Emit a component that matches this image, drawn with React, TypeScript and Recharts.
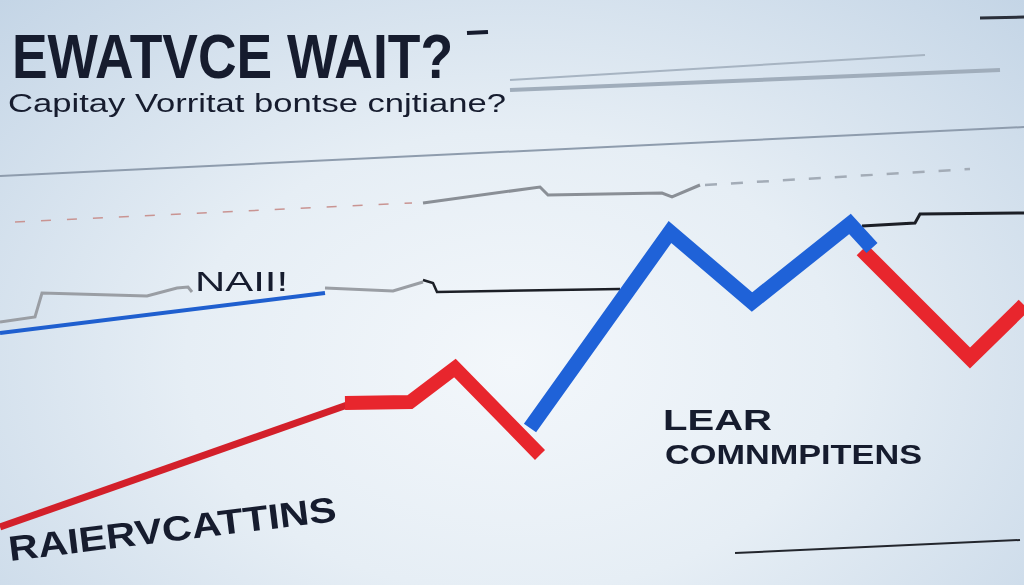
import React from "react";
import { LineChart, Line, XAxis, YAxis } from "recharts";

type Pt = { x: number; y: number };

// values: x across 0..1024, y level 0..585 (bottom = 0)
const redRise: Pt[] = [
  { x: 0, y: 58 },
  { x: 350, y: 181 },
];
const redPeak: Pt[] = [
  { x: 345, y: 182 },
  { x: 410, y: 183 },
  { x: 455, y: 217 },
  { x: 540, y: 130 },
];
const blueSwing: Pt[] = [
  { x: 530, y: 157 },
  { x: 670, y: 353 },
  { x: 752, y: 283 },
  { x: 850, y: 361 },
  { x: 872, y: 337 },
];
const redDrop: Pt[] = [
  { x: 862, y: 335 },
  { x: 970, y: 227 },
  { x: 1024, y: 280 },
];
const blueThin: Pt[] = [
  { x: 0, y: 252 },
  { x: 325, y: 292 },
];
const grayLeft: Pt[] = [
  { x: 0, y: 263 },
  { x: 35, y: 268 },
  { x: 42, y: 292 },
  { x: 147, y: 289 },
  { x: 177, y: 297 },
  { x: 188, y: 298 },
  { x: 192, y: 293 },
];
const grayMid: Pt[] = [
  { x: 325, y: 297 },
  { x: 393, y: 294 },
  { x: 423, y: 303 },
];
const blackMid: Pt[] = [
  { x: 423, y: 305 },
  { x: 433, y: 302 },
  { x: 437, y: 293 },
  { x: 620, y: 296 },
];
const grayUpper: Pt[] = [
  { x: 423, y: 382 },
  { x: 540, y: 398 },
  { x: 548, y: 390 },
  { x: 662, y: 392 },
  { x: 672, y: 388 },
  { x: 700, y: 400 },
];
const grayDashed: Pt[] = [
  { x: 705, y: 400 },
  { x: 970, y: 416 },
];
const dashedRed: Pt[] = [
  { x: 15, y: 363 },
  { x: 412, y: 382 },
];
const blackRight: Pt[] = [
  { x: 862, y: 359 },
  { x: 915, y: 362 },
  { x: 920, y: 371 },
  { x: 1024, y: 372 },
];
const grayTop: Pt[] = [
  { x: 0, y: 409 },
  { x: 1024, y: 458 },
];
const subRuleThin: Pt[] = [
  { x: 510, y: 505 },
  { x: 925, y: 530 },
];
const subRuleThick: Pt[] = [
  { x: 510, y: 495 },
  { x: 1000, y: 515 },
];
const topDash: Pt[] = [
  { x: 980, y: 567 },
  { x: 1024, y: 568 },
];
const titleDash: Pt[] = [
  { x: 467, y: 552 },
  { x: 488, y: 553 },
];
const bottomArrow: Pt[] = [
  { x: 735, y: 32 },
  { x: 1020, y: 45 },
];

const W = 1024;
const H = 585;
const ink = "#161c2e";

const series: { data: Pt[]; stroke: string; width: number; dash?: string }[] = [
  { data: grayTop, stroke: "#8e9cad", width: 2 },
  { data: subRuleThin, stroke: "#a7b4c2", width: 2 },
  { data: subRuleThick, stroke: "#a0adbb", width: 4 },
  { data: topDash, stroke: "#2a2f3a", width: 3 },
  { data: titleDash, stroke: ink, width: 4 },
  { data: dashedRed, stroke: "#c99492", width: 1.5, dash: "10 16" },
  { data: grayUpper, stroke: "#8a8f96", width: 3 },
  { data: grayDashed, stroke: "#a3acb7", width: 2.5, dash: "12 14" },
  { data: blackRight, stroke: "#1c1f26", width: 3 },
  { data: grayLeft, stroke: "#9a9ea4", width: 3 },
  { data: grayMid, stroke: "#9a9ea4", width: 3 },
  { data: blackMid, stroke: "#1c1f26", width: 2.5 },
  { data: blueThin, stroke: "#1f5fcf", width: 4 },
  { data: bottomArrow, stroke: "#23262d", width: 2 },
  { data: redRise, stroke: "#d3202a", width: 7 },
  { data: redPeak, stroke: "#e8262d", width: 14 },
  { data: redDrop, stroke: "#e8262d", width: 15 },
  { data: blueSwing, stroke: "#1f62d8", width: 15 },
];

export default function App() {
  return (
    <div
      style={{
        position: "fixed",
        left: 0,
        top: 0,
        width: W,
        height: H,
        overflow: "hidden",
        background:
          "radial-gradient(ellipse at 50% 62%, #f3f7fb 0%, #e6eef5 45%, #c4d5e6 100%)",
      }}
    >
      <LineChart width={W} height={H} margin={{ top: 0, right: 0, bottom: 0, left: 0 }}>
        <XAxis dataKey="x" type="number" domain={[0, W]} hide allowDataOverflow />
        <YAxis type="number" domain={[0, H]} hide allowDataOverflow />
        {series.map((s, i) => (
          <Line
            key={i}
            data={s.data}
            dataKey="y"
            type="linear"
            stroke={s.stroke}
            strokeWidth={s.width}
            strokeDasharray={s.dash}
            strokeLinejoin="miter"
            dot={false}
            activeDot={false}
            isAnimationActive={false}
          />
        ))}
      </LineChart>
      <svg
        width={W}
        height={H}
        style={{ position: "absolute", left: 0, top: 0, pointerEvents: "none" }}
        fontFamily="'Liberation Sans', Arial, sans-serif"
        fill={ink}
      >
        <text x={12} y={78} fontSize={63} fontWeight={700} textLength={441} lengthAdjust="spacingAndGlyphs">
          EWATVCE WAIT?
        </text>
        <text x={8} y={112} fontSize={25} textLength={498} lengthAdjust="spacingAndGlyphs">
          Capitay Vorritat bontse cnjtiane?
        </text>
        <text x={195} y={291} fontSize={28} textLength={93} lengthAdjust="spacingAndGlyphs">
          NAII!
        </text>
        <text x={663} y={430} fontSize={29} fontWeight={700} textLength={109} lengthAdjust="spacingAndGlyphs">
          LEAR
        </text>
        <text x={665} y={464} fontSize={28} fontWeight={700} textLength={257} lengthAdjust="spacingAndGlyphs">
          COMNMPITENS
        </text>
        <text
          x={10}
          y={561}
          fontSize={35}
          fontWeight={700}
          textLength={330}
          lengthAdjust="spacingAndGlyphs"
          transform="rotate(-7 10 561)"
        >
          RAIERVCATTINS
        </text>
      </svg>
    </div>
  );
}
